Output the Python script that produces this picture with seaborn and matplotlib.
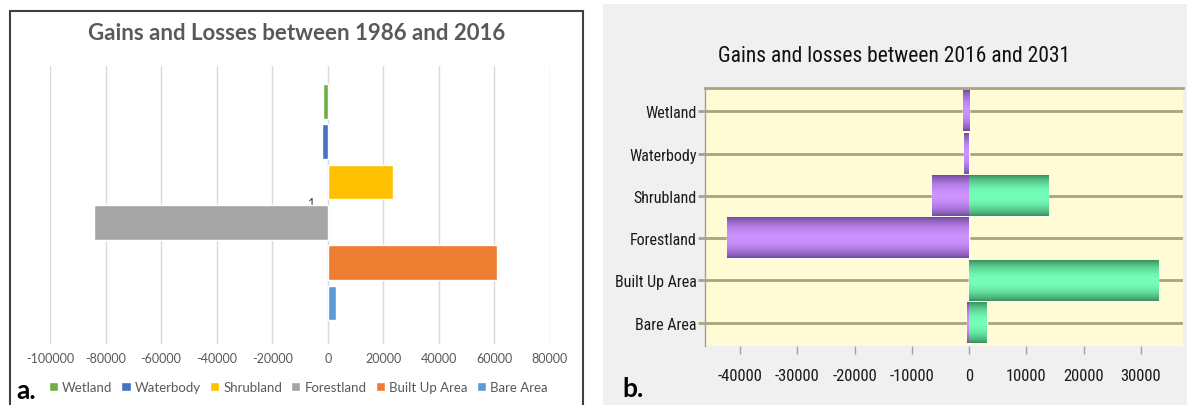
import numpy as np
import pandas as pd
import matplotlib
matplotlib.use('Agg')
import matplotlib.pyplot as plt
from matplotlib.patches import Rectangle
import seaborn as sns

#%% values (hectares)

categories = ['Wetland', 'Waterbody', 'Shrubland', 'Forestland', 'Built Up Area', 'Bare Area']

# a. 1986 - 2016, one Excel series per class
change_1986_2016 = [-1800, -2200, 23300, -84000, 61000, 2800]

# b. 2016 - 2031, losses and gains per class
losses_2016_2031 = [-1050, -800, -6500, -42200, 0, -400]
gains_2016_2031 = [0, 0, 13800, 0, 33000, 3100]

ticks_a = [-100000, -80000, -60000, -40000, -20000, 0, 20000, 40000, 60000, 80000]
ticks_b = [-40000, -30000, -20000, -10000, 0, 10000, 20000, 30000]

excel_colors = ['#70ad47', '#4472c4', '#ffc000', '#a5a5a5', '#ed7d31', '#5b9bd5']

W, H = 1187, 406

sns.set_style('white')
plt.rcParams['font.family'] = ['Lato', 'DejaVu Sans']
plt.rcParams['axes.unicode_minus'] = False
narrow = ['Roboto Condensed', 'DejaVu Sans']

fig = plt.figure(figsize=(W / 100, H / 100), dpi=100)

# panel backgrounds / frame
fig.patches.append(Rectangle((603 / W, 0), (W - 603) / W, (H - 5) / H, transform=fig.transFigure,
                             facecolor='#f0f0f0', edgecolor='none', zorder=-5))
fig.patches.append(Rectangle((10 / W, -0.05), 573 / W, 1.035 - 6 / H, transform=fig.transFigure,
                             fill=False, edgecolor='#404040', lw=1.5, zorder=-5))

#%% panel a

ax1 = fig.add_axes([50 / W, 61 / H, 500 / W, 278 / H])
ax1.patch.set_alpha(0)
df_a = pd.DataFrame({'period': '1', 'class': categories, 'change': change_1986_2016})
sns.barplot(data=df_a, x='change', y='period', hue='class', hue_order=categories,
            palette=excel_colors, saturation=1, orient='h', width=0.9, gap=0.14, ax=ax1)

ax1.set_xlim(-100000, 80000)
ax1.set_ylim(0.528, -0.507)
ax1.set_xticks(ticks_a)
ax1.grid(axis='x', color='#d9d9d9', lw=1)
ax1.set_axisbelow(True)
for s in ax1.spines.values():
    s.set_visible(False)
ax1.spines['left'].set_position(('data', 0))
ax1.tick_params(axis='x', length=0, pad=6, labelsize=9, labelcolor='#595959')
ax1.tick_params(axis='y', length=0, pad=9, labelsize=9, labelcolor='#404040')
ax1.set_xlabel('')
ax1.set_ylabel('')

sns.move_legend(ax1, 'center', bbox_to_anchor=(298 / W, (H - 388) / H), bbox_transform=fig.transFigure,
                ncol=6, frameon=False, title=None, fontsize=9.5, handlelength=0.7, handleheight=0.7,
                handletextpad=0.3, columnspacing=0.7)
for t in ax1.get_legend().get_texts():
    t.set_color('#595959')

fig.text(297 / W, 1 - 33 / H, 'Gains and Losses between 1986 and 2016', ha='center', va='center',
         fontsize=16, fontweight='bold', color='#595959')
fig.text(16 / W, 1 - 391 / H, 'a.', ha='left', va='center', fontsize=19, fontweight='bold', color='black')

#%% panel b

ax2 = fig.add_axes([705 / W, 59 / H, 478 / W, 258 / H])
ax2.set_facecolor('#fffbd4')
df_b = pd.DataFrame({'class': categories, 'losses': losses_2016_2031, 'gains': gains_2016_2031})
sns.barplot(data=df_b, x='losses', y='class', color='#a86ee0', saturation=1, orient='h', width=0.95, ax=ax2)
sns.barplot(data=df_b, x='gains', y='class', color='#52d890', saturation=1, orient='h', width=0.95, ax=ax2)

# cylinder shading on each bar
shade_cols = {'losses': ('#6f4a9c', '#cc92ff'), 'gains': ('#3a8f5e', '#74ffb8')}
n_cat = len(categories)
t = np.linspace(0, 1, 64)
shade = np.sin(np.pi * t) ** 0.8
for i, p in enumerate(ax2.patches):
    if p.get_width() == 0:
        continue
    dark, light = shade_cols['losses' if i < n_cat else 'gains']
    dark = np.array(matplotlib.colors.to_rgb(dark))
    light = np.array(matplotlib.colors.to_rgb(light))
    grad = dark + (light - dark) * shade[:, None]
    x0, y0, w, h = p.get_x(), p.get_y(), p.get_width(), p.get_height()
    ax2.imshow(grad[:, None, :], extent=[x0, x0 + w, y0 + h, y0], aspect='auto', zorder=3,
               interpolation='bilinear')

ax2.set_xlim(-46100, 37350)
ax2.set_ylim(5.55, -0.55)
ax2.set_xticks(ticks_b)
ax2.grid(axis='y', color='#a9a383', lw=2)
ax2.grid(axis='x', visible=False)
ax2.set_axisbelow(True)
ax2.spines['right'].set_visible(False)
ax2.spines['bottom'].set_visible(False)
ax2.spines['top'].set_color('#a9a383')
ax2.spines['top'].set_linewidth(2)
ax2.spines['left'].set_color('#a0a0a0')
ax2.spines['left'].set_linewidth(1)
ax2.tick_params(axis='y', direction='out', length=5, width=2, color='#a9a383', pad=1,
                left=True, labelsize=11.5, labelcolor='#1a1a1a')
ax2.tick_params(axis='x', direction='out', length=6, width=1, color='#a0a0a0', pad=10,
                bottom=True, labelsize=12, labelcolor='#1a1a1a')
for lab in ax2.get_xticklabels() + ax2.get_yticklabels():
    lab.set_family(narrow)
ax2.set_xlabel('')
ax2.set_ylabel('')

fig.text(894 / W, 1 - 56 / H, 'Gains and losses between 2016 and 2031', ha='center', va='center',
         fontsize=15.5, family=narrow, color='#111111')
fig.text(622 / W, 1 - 389 / H, 'b.', ha='left', va='center', fontsize=19, fontweight='bold', color='black')

fig.savefig('out.png', dpi=100)
